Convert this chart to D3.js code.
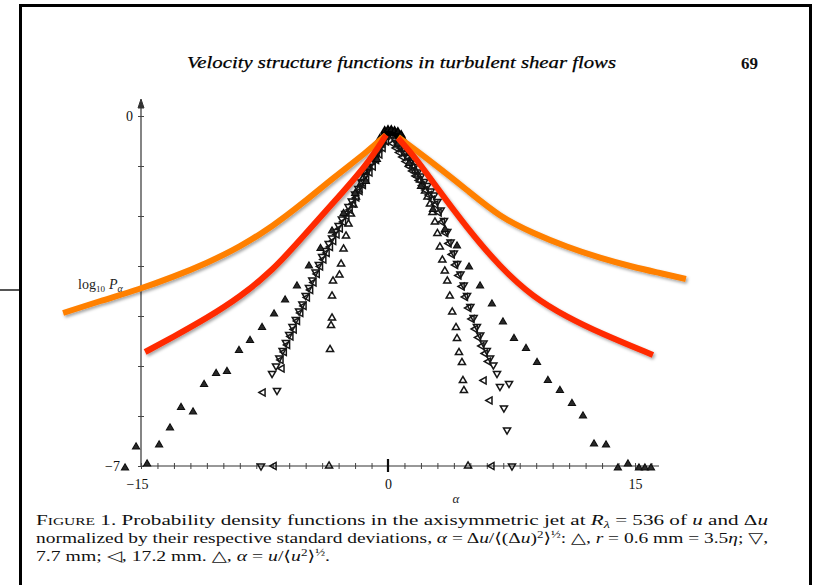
<!DOCTYPE html>
<html><head><meta charset="utf-8">
<script src="https://cdn.jsdelivr.net/npm/d3@7"></script>
<style>html,body{margin:0;padding:0;background:#fff;} svg{display:block;}</style>
</head><body>
<svg id="c" width="817" height="585"></svg>
<script>
// ---------- data (alpha, log10 P_alpha) ----------
// r = 0.6 mm  (filled up-triangles)
const r06Alpha = [-0.67,-1.34,-2.0,-2.7,-3.4,-4.1,-4.8,-5.53,-6.25,-6.92,-7.65,-8.38,-9.05,-9.78,-10.44,-11.17,-11.84,-12.57,-13.24,-13.90,-14.63,-15.30,-15.97,
                  0.61,1.28,2.0,2.73,3.46,4.19,4.92,5.59,6.31,6.98,7.65,8.38,9.05,9.71,10.44,11.17,11.84,12.51,13.24,13.96,14.57,15.24,15.60,15.97];
const r06Log   = [-0.87,-1.31,-1.55,-1.95,-2.3,-2.65,-3.0,-3.40,-3.68,-3.96,-4.23,-4.49,-4.69,-5.11,-5.15,-5.37,-5.92,-5.83,-6.24,-6.58,-6.96,-6.62,-7.04,
                  -0.56,-0.95,-1.41,-1.87,-2.27,-2.60,-3.02,-3.40,-3.76,-4.12,-4.45,-4.65,-4.93,-5.29,-5.49,-5.75,-6.00,-6.56,-6.58,-7.04,-6.96,-7.04,-7.04,-7.04];
// r = 7.7 mm (down-triangles)
const r77Alpha = [-0.2,-0.4,-0.6,-0.8,-1.0,-1.2,-1.4,-1.6,-1.8,-2.0,-2.2,-2.4,-2.6,-2.8,-3.0,-3.2,-3.4,-3.6,-3.8,-4.0,-4.2,-4.4,-4.6,-4.8,-5.0,-5.2,-5.4,-5.6,-5.8,-6.0,-6.2,-6.4,-6.6,-6.8,-7.04,-6.74,-7.71,
                  0.4,0.6,0.8,1.0,1.2,1.4,1.6,1.8,2.0,2.2,2.4,2.6,2.8,3.0,3.2,3.4,3.6,3.8,4.0,4.2,4.4,4.6,4.8,5.0,5.2,5.4,5.6,5.8,6.0,6.2,6.4,6.62,6.80,7.35,7.04,7.23,7.53];
const r77Log   = [-0.46,-0.58,-0.71,-0.83,-0.94,-1.08,-1.19,-1.32,-1.45,-1.56,-1.70,-1.81,-1.95,-2.06,-2.19,-2.31,-2.44,-2.55,-2.69,-2.81,-2.97,-3.12,-3.28,-3.43,-3.59,-3.76,-3.90,-4.07,-4.21,-4.37,-4.53,-4.69,-4.84,-5.00,-5.15,-5.49,-7,
                  -0.47,-0.56,-0.64,-0.74,-0.82,-0.93,-1.01,-1.12,-1.20,-1.31,-1.39,-1.50,-1.58,-1.71,-1.88,-2.09,-2.31,-2.52,-2.74,-2.95,-3.16,-3.38,-3.59,-3.81,-4.03,-4.21,-4.38,-4.54,-4.69,-4.84,-4.98,-5.15,-5.41,-5.35,-5.84,-6.28,-7];
// r = 17.2 mm (left-triangles)
const r172Alpha = [-0.1,-0.3,-0.5,-0.7,-0.9,-1.1,-1.3,-1.5,-1.7,-1.9,-2.1,-2.3,-2.5,-2.7,-2.9,-3.1,-3.3,-3.5,-3.7,-3.9,-4.1,-4.3,-4.5,-4.7,-4.9,-5.1,-5.3,-5.5,-5.7,-5.9,-6.1,-6.3,-6.5,-6.44,-7.59,-6.92,
                   0.3,0.5,0.7,0.9,1.1,1.3,1.5,1.7,1.9,2.1,2.3,2.5,2.7,2.9,3.1,3.3,3.5,3.7,3.9,4.1,4.3,4.5,4.7,4.9,5.1,5.3,5.5,5.7,5.9,6.1,5.83,6.19,6.31];
const r172Log   = [-0.51,-0.64,-0.77,-0.88,-1.01,-1.13,-1.27,-1.38,-1.50,-1.63,-1.75,-1.88,-2.00,-2.12,-2.25,-2.37,-2.50,-2.62,-2.74,-2.87,-3.01,-3.16,-3.33,-3.48,-3.63,-3.80,-3.94,-4.10,-4.27,-4.41,-4.58,-4.72,-4.88,-5.05,-5.53,-7,
                   -0.55,-0.64,-0.73,-0.82,-0.91,-1.01,-1.10,-1.20,-1.29,-1.39,-1.48,-1.58,-1.67,-1.77,-1.93,-2.12,-2.34,-2.55,-2.77,-2.98,-3.19,-3.41,-3.62,-3.84,-4.06,-4.26,-4.43,-4.60,-4.75,-4.91,-5.29,-5.69,-7];
// alpha = u / <u^2>^1/2 (open up-triangles)
const uAlpha = [-0.15,-0.3,-0.45,-0.6,-0.75,-0.9,-1.05,-1.2,-1.35,-1.5,-1.65,-1.8,-1.95,-2.1,-2.25,-2.4,-2.55,-2.7,-2.85,-2.95,-3.34,-3.40,-3.40,-3.46,-3.52,-3.58,
                0.3,0.45,0.6,0.75,0.9,1.05,1.2,1.35,1.5,1.65,1.8,1.95,2.1,2.25,2.4,2.55,2.7,2.85,3.0,3.15,3.3,3.45,3.6,3.75,3.9,4.13,4.19,4.31,4.49,4.55,4.61,4.86];
const uLog   = [-0.42,-0.5,-0.58,-0.66,-0.75,-0.84,-0.93,-1.03,-1.13,-1.24,-1.36,-1.48,-1.62,-1.78,-1.96,-2.16,-2.4,-2.66,-2.96,-3.18,-3.30,-3.60,-4.04,-4.19,-4.67,-7,
                -0.40,-0.46,-0.53,-0.60,-0.67,-0.75,-0.83,-0.91,-1.00,-1.09,-1.18,-1.28,-1.39,-1.50,-1.62,-1.76,-1.93,-2.12,-2.35,-2.62,-2.88,-3.1,-3.3,-3.6,-3.92,-4.23,-4.45,-4.73,-4.93,-5.29,-5.49,-7];
// dense cluster at the peak
const peakAlpha = [-0.5,-0.3,-0.1,0.1,0.3,0.5,0.7,0.9,-0.2,0,0.2,0.4,0.6,0.8];
const peakLog   = [-0.46,-0.4,-0.36,-0.34,-0.34,-0.36,-0.4,-0.46,-0.3,-0.28,-0.28,-0.3,-0.32,-0.38];
// overlaid curves
const orangeLeftAlpha  = [-19.73,-17.49,-15.06,-13.05,-10.99,-8.99,-6.98,-5.16,-3.34,-1.28,-0.12];
const orangeLeftLog    = [-3.94,-3.70,-3.46,-3.22,-2.94,-2.62,-2.20,-1.74,-1.24,-0.72,-0.38];
const orangeRightAlpha = [0.61,2.73,4.80,6.80,8.80,10.87,12.87,14.88,16.51,18.09];
const orangeRightLog   = [-0.42,-0.94,-1.48,-2.02,-2.34,-2.62,-2.84,-3.02,-3.14,-3.26];
const redLeftAlpha  = [-14.75,-13.05,-10.99,-8.99,-6.98,-5.34,-3.34,-1.28,-0.12];
const redLeftLog    = [-4.72,-4.42,-4.04,-3.62,-3.08,-2.48,-1.74,-0.98,-0.38];
const redRightAlpha = [0.61,1.64,2.85,4.80,6.80,8.80,10.87,12.87,16.09];
const redRightLog   = [-0.44,-0.82,-1.38,-2.24,-3.02,-3.62,-4.02,-4.34,-4.78];
// axes
const xTickValues = d3.range(-15, 17);
const xLabelValues = [-15, 0, 15];
const yTickValues = d3.range(0, -8, -1);
const yLabelValues = [0, -7];

// ---------- drawing ----------
const svg = d3.select("#c");
const x = d3.scaleLinear().domain([-15, 15]).range([141, 635]);
const y = d3.scaleLinear().domain([0, -7]).range([116, 466]);
const serif = "'Liberation Serif','DejaVu Serif',serif";

const defs = svg.append("defs");
const soft = defs.append("filter").attr("id","soft").attr("x","-5%").attr("y","-5%").attr("width","110%").attr("height","110%");
soft.append("feGaussianBlur").attr("stdDeviation", 0.45);
const shadow = defs.append("filter").attr("id","shadow").attr("x","-10%").attr("y","-10%").attr("width","130%").attr("height","130%");
shadow.append("feDropShadow").attr("dx",1.5).attr("dy",2).attr("stdDeviation",1.4)
  .attr("flood-color","#000").attr("flood-opacity",0.35);

svg.append("rect").attr("width",817).attr("height",585).attr("fill","#fff");
// frame
svg.append("rect").attr("x",20.5).attr("y",5.5).attr("width",790).attr("height",620)
  .attr("fill","none").attr("stroke","#000").attr("stroke-width",3);
svg.append("line").attr("x1",0).attr("x2",19).attr("y1",290).attr("y2",290)
  .attr("stroke","#555").attr("stroke-width",2);

// header
svg.append("text").attr("x",187).attr("y",68).attr("font-family",serif).attr("font-style","italic")
  .attr("font-size",17).attr("textLength",429).attr("lengthAdjust","spacingAndGlyphs").attr("fill","#000")
  .attr("stroke","#000").attr("stroke-width",0.25)
  .text("Velocity structure functions in turbulent shear flows");
svg.append("text").attr("x",741).attr("y",69).attr("font-family",serif).attr("font-weight","bold")
  .attr("font-size",17).attr("fill","#111").text("69");

const g = svg.append("g").attr("filter","url(#soft)");

// axes
const ax = g.append("g").attr("stroke","#333").attr("fill","none");
ax.append("line").attr("x1",x(-15)).attr("x2",x(-15)).attr("y1",104).attr("y2",y(-7)).attr("stroke-width",1.2);
ax.append("path").attr("d",`M${x(-15)-3},${108}L${x(-15)},${99}L${x(-15)+3},${108}Z`).attr("fill","#333");
ax.append("line").attr("x1",x(-15)).attr("x2",659).attr("y1",y(-7)).attr("y2",y(-7)).attr("stroke-width",1.2);

const xAxisB = d3.axisBottom(x).tickValues(xTickValues).tickSize(3).tickFormat("");
const xAxisT = d3.axisTop(x).tickValues(xTickValues).tickSize(3).tickFormat("");
g.append("g").attr("transform",`translate(0,${y(-7)})`).call(xAxisB).call(s=>s.select(".domain").remove())
  .selectAll("line").attr("stroke","#444");
g.append("g").attr("transform",`translate(0,${y(-7)})`).call(xAxisT).call(s=>s.select(".domain").remove())
  .selectAll("line").attr("stroke","#444");
g.append("line").attr("x1",x(0)).attr("x2",x(0)).attr("y1",y(-7)-7).attr("y2",y(-7)+6)
  .attr("stroke","#111").attr("stroke-width",2.2);

const yAxisL = d3.axisLeft(y).tickValues(yTickValues).tickSize(3).tickFormat("");
const yAxisR = d3.axisRight(y).tickValues(yTickValues).tickSize(3).tickFormat("");
g.append("g").attr("transform",`translate(${x(-15)},0)`).call(yAxisL).call(s=>s.select(".domain").remove())
  .selectAll("line").attr("stroke","#444");
g.append("g").attr("transform",`translate(${x(-15)},0)`).call(yAxisR).call(s=>s.select(".domain").remove())
  .selectAll("line").attr("stroke","#444");

// axis labels
const xl = svg.append("g").attr("transform",`translate(0,${y(-7)})`)
  .call(d3.axisBottom(x).tickValues(xLabelValues).tickSize(0).tickPadding(13));
xl.select(".domain").remove();
xl.selectAll("text").attr("font-family",serif).attr("font-size",14).attr("fill","#111")
  .attr("dx", d => d < 0 ? -4 : 0);
const yl = svg.append("g");
yl.selectAll("text").data(yLabelValues).join("text")
  .attr("x", d => d === 0 ? 133 : 120).attr("y", d => y(d) + 5)
  .attr("text-anchor","end").attr("font-family",serif).attr("font-size",14).attr("fill","#111")
  .text(d => d3.format("")(d).replace("-","\u2212"));
svg.append("text").attr("x",456).attr("y",503).attr("text-anchor","middle").attr("font-family",serif)
  .attr("font-style","italic").attr("font-size",13).attr("fill","#222").text("α");
const lg = svg.append("text").attr("x",78).attr("y",289).attr("font-family",serif).attr("font-size",14).attr("fill","#222");
lg.append("tspan").text("log");
lg.append("tspan").attr("font-size",9).attr("dy",3).text("10");
lg.append("tspan").attr("font-style","italic").attr("dy",-3).attr("dx",4).text("P");
lg.append("tspan").attr("font-style","italic").attr("font-size",10).attr("dy",3).text("α");

// scatter marks
function series(alpha, logs){ return alpha.map((a,i)=>({a, l: logs[i]})); }
const tri = d3.symbol(d3.symbolTriangle, 22);
const marks = g.append("g");
function drawSeries(data, rot, fill, stroke, sw){
  marks.append("g").selectAll("path").data(data).join("path")
    .attr("d", tri)
    .attr("transform", d => `translate(${x(d.a)},${y(d.l)}) rotate(${rot})`)
    .attr("fill", fill).attr("stroke", stroke).attr("stroke-width", sw);
}
drawSeries(series(uAlpha,uLog), 0, "none", "#151515", 1.5);
drawSeries(series(r172Alpha,r172Log), -90, "none", "#151515", 1.5);
drawSeries(series(r77Alpha,r77Log), 180, "none", "#151515", 1.5);
drawSeries(series(r06Alpha,r06Log), 0, "#2a2a2a", "#111", 1.1);
drawSeries(series(peakAlpha,peakLog), 0, "#111", "#000", 1.6);

// overlaid curves
const line = d3.line().x(d=>x(d.a)).y(d=>y(d.l)).curve(d3.curveBasis);
const curves = svg.append("g").attr("filter","url(#shadow)").attr("fill","none").attr("stroke-width",6);
curves.append("path").attr("d", line(series(orangeLeftAlpha,orangeLeftLog))).attr("stroke","#ff8000");
curves.append("path").attr("d", line(series(orangeRightAlpha,orangeRightLog))).attr("stroke","#ff8000");
curves.append("path").attr("d", line(series(redLeftAlpha,redLeftLog))).attr("stroke","#ff2a00");
curves.append("path").attr("d", line(series(redRightAlpha,redRightLog))).attr("stroke","#ff2a00");

// caption
const cap = svg.append("g").attr("font-family",serif).attr("font-size",15).attr("fill","#111");
const c1 = cap.append("text").attr("x",36).attr("y",525).attr("textLength",732).attr("lengthAdjust","spacingAndGlyphs");
c1.append("tspan").attr("font-variant","small-caps").text("Figure");
c1.append("tspan").text(" 1. Probability density functions in the axisymmetric jet at ");
c1.append("tspan").attr("font-style","italic").text("R");
c1.append("tspan").attr("font-size",10).attr("dy",3).attr("font-style","italic").text("λ");
c1.append("tspan").attr("dy",-3).text(" = 536 of ");
c1.append("tspan").attr("font-style","italic").text("u");
c1.append("tspan").text(" and Δ");
c1.append("tspan").attr("font-style","italic").text("u");
const c2 = cap.append("text").attr("x",36).attr("y",543).attr("textLength",732).attr("lengthAdjust","spacingAndGlyphs");
c2.append("tspan").text("normalized by their respective standard deviations, ");
c2.append("tspan").attr("font-style","italic").text("α");
c2.append("tspan").text(" = Δ");
c2.append("tspan").attr("font-style","italic").text("u");
c2.append("tspan").text("/⟨(Δ");
c2.append("tspan").attr("font-style","italic").text("u");
c2.append("tspan").text(")");
c2.append("tspan").attr("font-size",10).attr("dy",-5).text("2");
c2.append("tspan").attr("dy",5).text("⟩");
c2.append("tspan").attr("font-size",10).attr("dy",-5).text("½");
c2.append("tspan").attr("dy",5).text(": △, ");
c2.append("tspan").attr("font-style","italic").text("r");
c2.append("tspan").text(" = 0.6 mm = 3.5");
c2.append("tspan").attr("font-style","italic").text("η");
c2.append("tspan").text("; ▽,");
const c3 = cap.append("text").attr("x",36).attr("y",561).attr("textLength",294).attr("lengthAdjust","spacingAndGlyphs");
c3.append("tspan").text("7.7 mm; ◁, 17.2 mm. △, ");
c3.append("tspan").attr("font-style","italic").text("α");
c3.append("tspan").text(" = ");
c3.append("tspan").attr("font-style","italic").text("u");
c3.append("tspan").text("/⟨");
c3.append("tspan").attr("font-style","italic").text("u");
c3.append("tspan").attr("font-size",10).attr("dy",-5).text("2");
c3.append("tspan").attr("dy",5).text("⟩");
c3.append("tspan").attr("font-size",10).attr("dy",-5).text("½");
c3.append("tspan").attr("dy",5).text(".");
</script>
</body></html>
